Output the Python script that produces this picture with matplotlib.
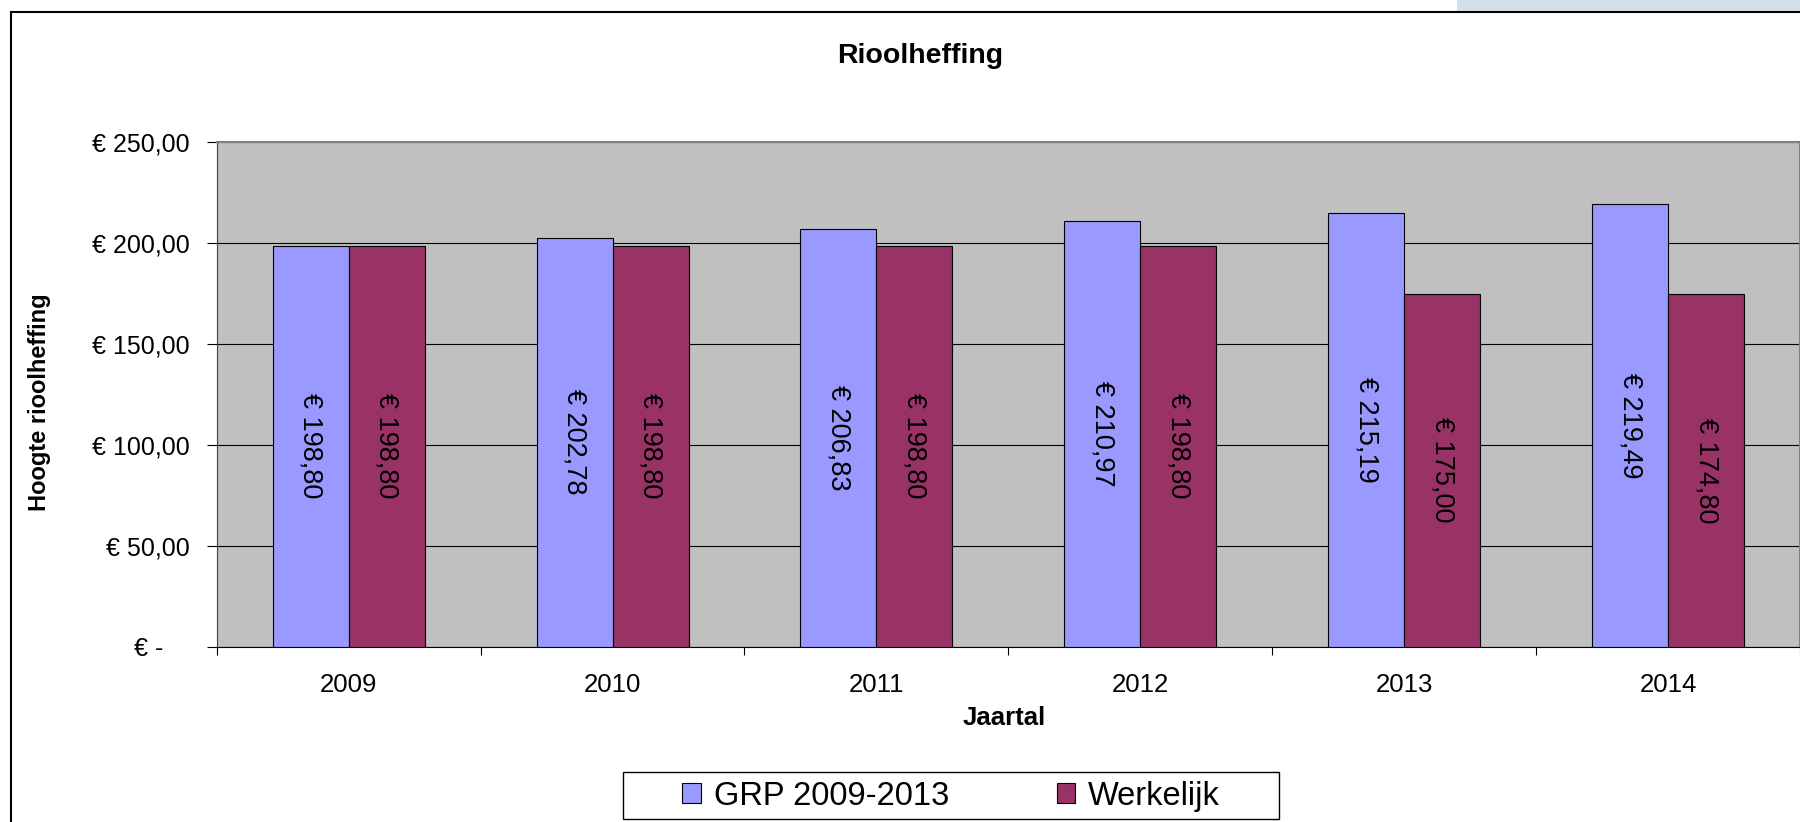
import matplotlib
matplotlib.use("Agg")
import matplotlib.pyplot as plt
from matplotlib.patches import Rectangle, Patch
from matplotlib.lines import Line2D
from matplotlib.transforms import ScaledTranslation
import numpy as np

# ---- data ----
years = ["2009", "2010", "2011", "2012", "2013", "2014"]
grp = [198.80, 202.78, 206.83, 210.97, 215.19, 219.49]
werkelijk = [198.80, 198.80, 198.80, 198.80, 175.00, 174.80]
series_names = ["GRP 2009-2013", "Werkelijk"]
y_ticks = [0, 50, 100, 150, 200, 250]
y_tick_labels = ["€ -", "€ 50,00", "€ 100,00", "€ 150,00", "€ 200,00", "€ 250,00"]
title = "Rioolheffing"
x_label = "Jaartal"
y_label = "Hoogte rioolheffing"

def euro(v):
    return "€ " + f"{v:.2f}".replace(".", ",")

plt.rcParams['font.family'] = ['Liberation Sans', 'DejaVu Sans']

W, H = 1800, 822
fig = plt.figure(figsize=(W / 100, H / 100), dpi=100)
fig.patch.set_facecolor("white")

def fx(px):
    return px / W

def fy(py):
    return 1 - py / H

ax_left, ax_right, ax_top, ax_bottom = 216.7, 1800, 142.3, 646.7
ax = fig.add_axes([fx(ax_left), fy(ax_bottom), fx(ax_right - ax_left), (ax_bottom - ax_top) / H])
ax.set_facecolor("#C0C0C0")

x = np.arange(len(years))
w = 0.288
c1 = ax.bar(x - w / 2, grp, w, color="#9999FF", edgecolor="black", linewidth=0.8, zorder=3)
c2 = ax.bar(x + w / 2, werkelijk, w, color="#993366", edgecolor="black", linewidth=0.8, zorder=3)

ax.bar_label(c1, labels=[euro(v) for v in grp], label_type="center", rotation=-90, fontsize=19.5)
ax.bar_label(c2, labels=[euro(v) for v in werkelijk], label_type="center", rotation=-90, fontsize=19.5)

ax.set_xlim(-0.5, len(years) - 0.5)
ax.set_ylim(0, 250)

ax.set_yticks(y_ticks)
ax.set_yticklabels(y_tick_labels, fontsize=18)
ax.tick_params(axis="y", direction="out", length=7.2, width=0.8, pad=12, color="black")
# shift the zero label leftwards (accounting style)
lab0 = ax.get_yticklabels()[0]
lab0.set_transform(lab0.get_transform() + ScaledTranslation(-27 / 100, 0, fig.dpi_scale_trans))

ax.set_xticks(np.arange(-0.5, len(years), 1.0))
ax.set_xticklabels([])
ax.set_xticks(x, minor=True)
ax.set_xticklabels(years, minor=True, fontsize=18.5)
ax.tick_params(axis="x", which="major", direction="out", length=6, width=0.8, color="black")
ax.tick_params(axis="x", which="minor", length=0, pad=19)

ax.yaxis.grid(True, color="black", linewidth=0.8)
ax.set_axisbelow(True)

for s in ["top", "right"]:
    ax.spines[s].set_color("#808080")
    ax.spines[s].set_linewidth(1.5)
ax.spines["left"].set_color("#404040")
ax.spines["left"].set_linewidth(0.8)
ax.spines["bottom"].set_color("black")
ax.spines["bottom"].set_linewidth(0.8)

# titles
fig.text(fx(919.7), fy(63.3), title, ha="center", va="baseline", fontsize=20.5, fontweight="bold")
fig.text(fx(1004), fy(725), x_label, ha="center", va="baseline", fontsize=18.5, fontweight="bold")
fig.text(fx(40), fy(402.5), y_label, ha="center", va="center", rotation=90, fontsize=17, fontweight="bold")

# legend
fig.patches.append(Rectangle((fx(623), fy(819)), fx(1279 - 623), (819 - 772) / H,
                             transform=fig.transFigure, facecolor="white", edgecolor="black",
                             linewidth=1.0, zorder=1))
handles = [Patch(facecolor="#9999FF", edgecolor="black", linewidth=0.8),
           Patch(facecolor="#993366", edgecolor="black", linewidth=0.8)]
leg = fig.legend(handles, series_names, loc="center", bbox_to_anchor=(fx(951), fy(796)),
                 ncol=2, fontsize=23.5, frameon=False, handlelength=0.58, handleheight=0.58,
                 handletextpad=0.38, columnspacing=3.3, borderpad=0.0)
leg.set_zorder(5)

# outer chart border (top & left visible)
fig.lines.append(Line2D([fx(11), fx(11)], [0, fy(12)], transform=fig.transFigure, color="black", linewidth=1.5))
fig.lines.append(Line2D([fx(11), 1], [fy(12), fy(12)], transform=fig.transFigure, color="black", linewidth=1.5))
# light strip at top right
fig.patches.append(Rectangle((fx(1457), fy(11)), fx(1800 - 1457), 11 / H, transform=fig.transFigure,
                             facecolor="#D3DFE8", edgecolor="none"))

fig.savefig("out.png", dpi=100)
